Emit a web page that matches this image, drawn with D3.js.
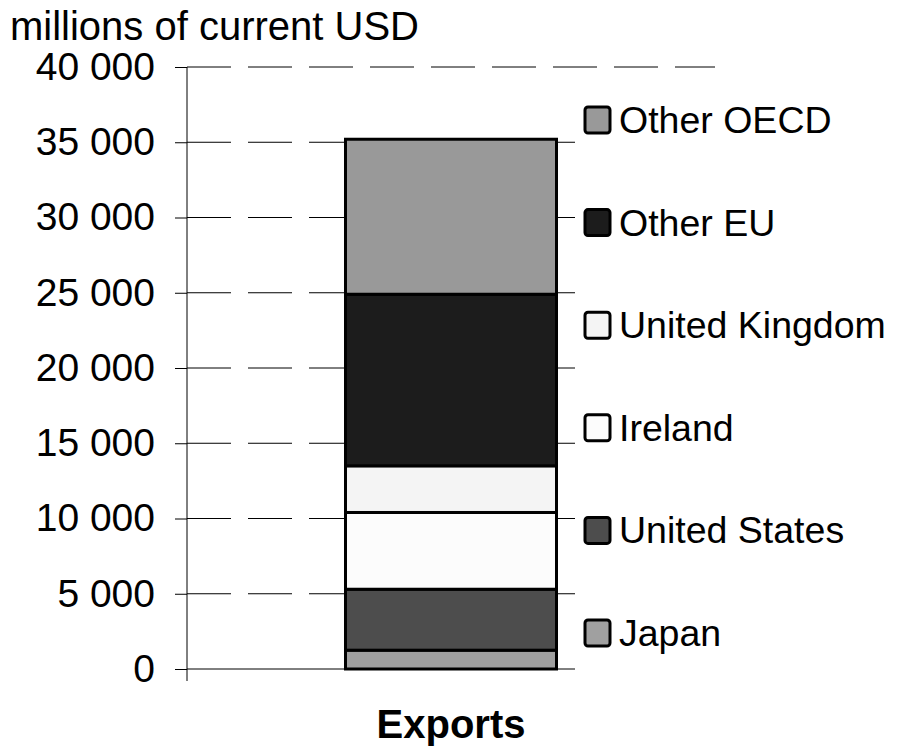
<!DOCTYPE html>
<html>
<head>
<meta charset="utf-8">
<script src="https://cdn.jsdelivr.net/npm/d3@7"></script>
<style>
  body { margin: 0; background: #fff; }
  svg { display: block; font-family: "Liberation Sans", Arial, sans-serif; }
</style>
</head>
<body>
<svg id="chart" width="903" height="750"></svg>
<script>
// Data
const categories = ["Exports"];
const seriesNames = ["Japan", "United States", "Ireland", "United Kingdom", "Other EU", "Other OECD"];
const seriesValues = [1250, 4050, 5100, 3100, 11400, 10300];
const seriesColors = ["#a0a0a0", "#4d4d4d", "#fcfcfc", "#f4f4f4", "#1c1c1c", "#999999"];
const yTicks = [0, 5000, 10000, 15000, 20000, 25000, 30000, 35000, 40000];
const yTitle = "millions of current USD";

const svg = d3.select("#chart");
const margin = { top: 67, right: 188, bottom: 81, left: 187 };
const width = 903, height = 750;

const x = d3.scaleBand().domain(categories).range([margin.left, width - margin.right]).paddingInner(0).paddingOuter(0.3);
const y = d3.scaleLinear().domain([0, 40000]).range([height - margin.bottom, margin.top]);

const fmt = d => d3.format(",")(d).replace(/,/g, " ");

// gridlines (dashed), skip zero
svg.append("g")
  .selectAll("line")
  .data(yTicks.filter(d => d > 0))
  .enter().append("line")
  .attr("x1", margin.left).attr("x2", width - margin.right)
  .attr("y1", d => y(d)).attr("y2", d => y(d))
  .attr("stroke", "#000").attr("stroke-width", 1)
  .attr("stroke-dasharray", "44,17");

// y axis
const yAxis = svg.append("g")
  .attr("transform", `translate(${margin.left},0)`)
  .call(d3.axisLeft(y).tickValues(yTicks).tickFormat(fmt).tickSize(12).tickPadding(20));
yAxis.select(".domain").remove();
yAxis.selectAll(".tick line").attr("stroke", "#000").attr("stroke-width", 1);
yAxis.selectAll(".tick text")
  .attr("font-size", 39).attr("fill", "#000")
  .attr("font-family", "Liberation Sans, Arial, sans-serif");

svg.append("line")
  .attr("x1", margin.left).attr("x2", margin.left)
  .attr("y1", y(40000)).attr("y2", y(0) + 12)
  .attr("stroke", "#000").attr("stroke-width", 1);
svg.append("line")
  .attr("x1", margin.left).attr("x2", width - margin.right)
  .attr("y1", y(0)).attr("y2", y(0))
  .attr("stroke", "#000").attr("stroke-width", 1);

// stacked bar
const stackRow = {};
seriesNames.forEach((s, i) => stackRow[s] = seriesValues[i]);
const stacked = d3.stack().keys(seriesNames)([stackRow]);
const bw = 211;
svg.append("g")
  .selectAll("rect")
  .data(stacked)
  .enter().append("rect")
  .attr("x", x(categories[0]) + x.bandwidth() / 2 - bw / 2)
  .attr("width", bw)
  .attr("y", d => y(d[0][1]))
  .attr("height", d => y(d[0][0]) - y(d[0][1]))
  .attr("fill", (d, i) => seriesColors[i])
  .attr("stroke", "#000").attr("stroke-width", 3);

// category label
svg.append("text")
  .attr("x", x(categories[0]) + x.bandwidth() / 2)
  .attr("y", 738)
  .attr("text-anchor", "middle")
  .attr("font-size", 40).attr("font-weight", "bold")
  .text(categories[0]);

// title
svg.append("text")
  .attr("x", 10).attr("y", 40)
  .attr("font-size", 40)
  .text(yTitle);

// legend (covers gridlines on the right)
const legend = svg.append("g");
legend.append("rect")
  .attr("x", 575).attr("y", 92).attr("width", 328).attr("height", 600)
  .attr("fill", "#fff");
const order = seriesNames.map((s, i) => i).reverse();
const lg = legend.selectAll("g.item")
  .data(order)
  .enter().append("g")
  .attr("transform", (d, k) => `translate(585,${120 + k * 102.6})`);
lg.append("rect")
  .attr("x", 0).attr("y", -13).attr("width", 25).attr("height", 26)
  .attr("rx", 3)
  .attr("fill", d => seriesColors[d])
  .attr("stroke", "#000").attr("stroke-width", 3);
lg.append("text")
  .attr("x", 34).attr("y", 13)
  .attr("font-size", 37.5)
  .text(d => seriesNames[d]);
</script>
</body>
</html>
